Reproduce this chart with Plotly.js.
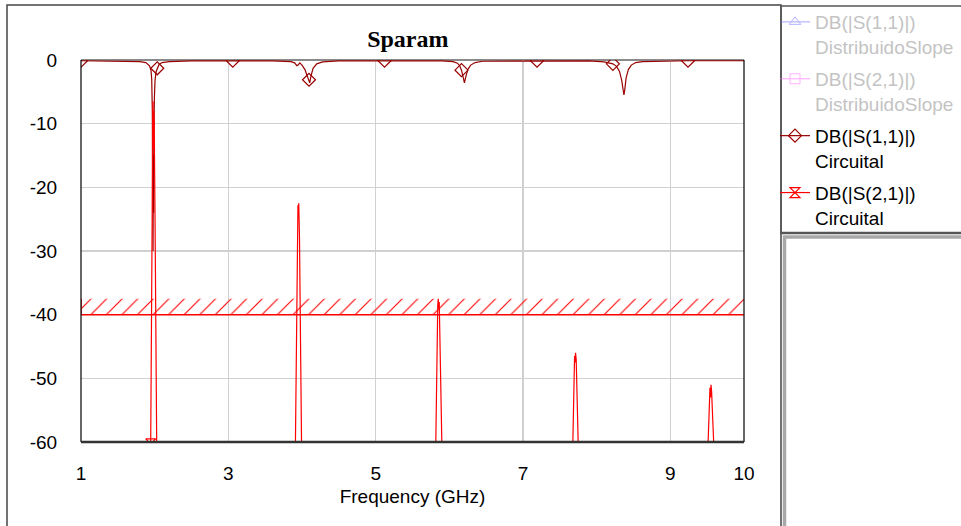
<!DOCTYPE html>
<html>
<head>
<meta charset="utf-8">
<script src="https://cdn.plot.ly/plotly-3.0.1.min.js"></script>
<style>html,body{margin:0;padding:0;background:#fff;}#chart{width:961px;height:526px;}</style>
</head>
<body>
<div id="chart"></div>
<script>
// ---------------- data ----------------
const xTicks = [1, 3, 5, 7, 9, 10];
const yTicks = [0, -10, -20, -30, -40, -50, -60];

// DB(|S(1,1)|) Circuital
const freqS11 = [1.00, 1.50, 1.80, 1.88, 1.93, 1.95, 1.96, 1.968, 1.974, 1.978, 1.982, 1.986, 1.99, 1.996, 2.005, 2.02, 2.035, 2.06, 2.10, 2.20, 2.50,
  3.06, 3.60, 3.85, 3.90, 3.93, 3.95, 3.97, 4.00, 4.04, 4.07, 4.095, 4.105, 4.12, 4.15, 4.20, 4.28, 4.50,
  5.12, 5.90, 6.05, 6.11, 6.14, 6.165, 6.19, 6.205, 6.22, 6.25, 6.29, 6.35, 6.45,
  7.19, 7.90, 8.10, 8.17, 8.22, 8.27, 8.31, 8.34, 8.36, 8.37, 8.38, 8.40, 8.43, 8.47, 8.53, 8.62, 9.24, 10.0];
const dbS11 = [-0.12, -0.15, -0.25, -0.4, -0.9, -1.6, -3, -8, -16, -30, -15, -24, -12, -6, -3.2, -1.8, -1.3, -0.7, -0.4, -0.25, -0.15,
  -0.12, -0.15, -0.25, -0.45, -0.9, -0.75, -0.45, -0.8, -1.5, -2.4, -3.1, -3.6, -2.6, -1.3, -0.6, -0.3, -0.15,
  -0.12, -0.15, -0.25, -0.5, -0.9, -1.6, -2.8, -3.6, -2.8, -1.5, -0.8, -0.4, -0.2,
  -0.12, -0.15, -0.3, -0.45, -0.6, -1.0, -1.8, -3.2, -5.0, -5.5, -4.8, -2.8, -1.5, -0.8, -0.4, -0.25, -0.12, -0.12];
const markS11 = [1.00, 2.035, 3.06, 4.095, 5.12, 6.165, 7.19, 8.22, 9.24];

// DB(|S(2,1)|) Circuital (values below -60 lie off the chart)
const freqS21 = [1.00, 1.90, 1.946, 1.958, 1.966, 1.972, 1.978, 1.983, 1.988, 1.994, 2.005, 2.018, 2.03, 2.06, 2.975,
  3.89, 3.91, 3.925, 3.937, 3.945, 3.95, 3.956, 3.966, 3.98, 3.99, 4.004, 4.04, 5.033,
  5.78, 5.815, 5.83, 5.843, 5.85, 5.856, 5.863, 5.878, 5.895, 5.93, 6.062, 7.091,
  7.64, 7.675, 7.69, 7.70, 7.707, 7.713, 7.722, 7.74, 7.758, 7.79, 8.12, 9.149,
  9.48, 9.51, 9.525, 9.538, 9.545, 9.552, 9.56, 9.578, 9.595, 9.63, 10.0];
const dbS21 = [-80, -75, -60.3, -45, -25, -10, -6.5, -14, -8, -10, -25, -50, -64, -80, -80,
  -80, -61, -40, -25, -22.8, -24.5, -22.5, -28, -45, -62, -72, -80, -80,
  -80, -61, -45, -38.5, -37.5, -39, -38, -48, -61, -80, -80, -80,
  -80, -61, -50, -46.5, -47.5, -46, -47, -55, -62, -80, -80, -80,
  -80, -61, -54, -51.5, -53, -51, -52, -56, -62, -80, -80];
const markS21 = [1.946, 2.975, 4.004, 5.033, 6.062, 7.091, 8.12, 9.149];

// DistribuidoSlope series are switched off in the reference (legend only, no visible values)
const freqDist = [null];
const dbDistS11 = [null];
const dbDistS21 = [null];

// limit mask
const maskFreq = [1, 10];
const maskLow = [-40, -40];
const maskHigh = [-37.5, -37.5];

// ---------------- drawing ----------------
const FONT = 'Liberation Sans, Arial, sans-serif';
const C11 = '#990000', C21 = '#ff0000';
const L = 81, R = 744, T = 60, B = 442, W = R - L, H = B - T;
const px = x => (x - L) / W;
const py = y => (B - y) / H;
const markerColors = (freq, marks, col) => freq.map((f, i) =>
  (i === 0 || marks.some(m => Math.abs(m - f) < 1e-9)) ? col : 'rgba(0,0,0,0)');

const traces = [
  { // hatched limit area
    x: [maskFreq[0], maskFreq[1], maskFreq[1], maskFreq[0]],
    y: [maskLow[0], maskLow[1], maskHigh[1], maskHigh[0]],
    mode: 'lines', fill: 'toself', line: {width: 0, color: 'rgba(0,0,0,0)'},
    fillcolor: 'rgba(0,0,0,0)',
    fillpattern: {shape: '/', fgcolor: C21, bgcolor: 'rgba(0,0,0,0)', size: 11, solidity: 0.1},
    showlegend: false, hoverinfo: 'skip'
  },
  { // limit line
    x: [maskFreq[1], maskFreq[0], maskFreq[0]],
    y: [maskLow[1], maskLow[0], maskHigh[0]],
    mode: 'lines', line: {width: 1.5, color: C21},
    showlegend: false, hoverinfo: 'skip'
  },
  {
    x: freqDist, y: dbDistS11, visible: 'legendonly', mode: 'lines+markers', legendgroup: 'g1',
    name: '<span style="color:#888">DB(|S(1,1)|)</span><br><span style="color:#888">DistribuidoSlope</span>',
    line: {color: '#6a6aff', width: 1.2},
    marker: {symbol: 'triangle-up-open', size: 10, color: '#6a6aff'}
  },
  {
    x: freqDist, y: dbDistS21, visible: 'legendonly', mode: 'lines+markers', legendgroup: 'g2',
    name: '<span style="color:#888">DB(|S(2,1)|)</span><br><span style="color:#888">DistribuidoSlope</span>',
    line: {color: '#ff66ff', width: 1.2},
    marker: {symbol: 'square-open', size: 10, color: '#ff66ff'}
  },
  {
    x: freqS11, y: dbS11, mode: 'lines+markers', legendgroup: 'g3',
    name: 'DB(|S(1,1)|)<br>Circuital',
    line: {color: C11, width: 1.2},
    marker: {symbol: 'diamond-open', size: 10, color: markerColors(freqS11, markS11, C11), line: {width: 1.2}}
  },
  {
    x: freqS21, y: dbS21, mode: 'lines+markers', legendgroup: 'g4',
    name: 'DB(|S(2,1)|)<br>Circuital',
    line: {color: C21, width: 1.2},
    marker: {symbol: 'hourglass-open', size: 10, color: markerColors(freqS21, markS21, C21), line: {width: 1.2}}
  }
];

const layout = {
  width: 961, height: 526,
  margin: {l: L, r: 961 - R, t: T, b: 526 - B, autoexpand: false},
  paper_bgcolor: '#ffffff', plot_bgcolor: '#ffffff',
  font: {family: FONT, size: 19, color: '#000'},
  title: {
    text: 'Sparam', xref: 'paper', x: 0.493, xanchor: 'center',
    yref: 'container', y: 1 - 39 / 526, yanchor: 'middle',
    font: {family: 'Liberation Serif, Times New Roman, serif', size: 24, color: '#000', weight: 'bold'}
  },
  xaxis: {
    range: [1, 10], tickvals: xTicks, ticktext: xTicks.map(String),
    showgrid: true, gridcolor: '#d0d0d0', gridwidth: 1.5, zeroline: false, showline: false,
    ticks: 'outside', ticklen: 14, tickcolor: 'rgba(0,0,0,0)',
    tickfont: {family: FONT, size: 19, color: '#000'},
    title: {text: 'Frequency (GHz)', font: {family: FONT, size: 19, color: '#000'}, standoff: 6}
  },
  yaxis: {
    range: [-60, 0], tickvals: yTicks, ticktext: yTicks.map(String),
    showgrid: true, gridcolor: '#d0d0d0', gridwidth: 1.5, zeroline: false, showline: false,
    ticks: 'outside', ticklen: 19, tickcolor: 'rgba(0,0,0,0)',
    tickfont: {family: FONT, size: 19, color: '#000'}
  },
  showlegend: true,
  legend: {
    x: px(775), xref: 'paper', xanchor: 'left',
    y: py(3), yref: 'paper', yanchor: 'top',
    valign: 'top', bgcolor: 'rgba(0,0,0,0)', borderwidth: 0,
    tracegroupgap: 4.5, itemwidth: 30, groupclick: 'toggleitem',
    font: {family: FONT, size: 19, color: '#000'}
  },
  shapes: [
    // outer window frame
    {type: 'rect', xref: 'paper', yref: 'paper', x0: px(7), x1: px(781), y0: py(540), y1: py(5),
     line: {color: '#444', width: 1.5}, layer: 'below'},
    // legend box
    {type: 'rect', xref: 'paper', yref: 'paper', x0: px(781), x1: px(975), y0: py(233), y1: py(6),
     line: {color: '#555', width: 1.5}, layer: 'below'},
    {type: 'line', xref: 'paper', yref: 'paper', x0: px(780), x1: px(975), y0: py(233), y1: py(233),
     line: {color: '#555', width: 2.5}},
    // lower panel
    {type: 'rect', xref: 'paper', yref: 'paper', x0: px(784.5), x1: px(975), y0: py(540), y1: py(237),
     line: {color: '#a8a8a8', width: 3.5}, layer: 'below'},
    // plot frame
    {type: 'line', xref: 'paper', yref: 'paper', x0: 0, x1: 1, y0: 1, y1: 1, line: {color: '#8a8a8a', width: 2}, layer: 'below'},
    {type: 'line', xref: 'paper', yref: 'paper', x0: 0, x1: 0, y0: 0, y1: 1, line: {color: '#000', width: 1.2}},
    {type: 'line', xref: 'paper', yref: 'paper', x0: 1, x1: 1, y0: 0, y1: 1, line: {color: '#000', width: 1.2}},
    {type: 'line', xref: 'paper', yref: 'paper', x0: 0, x1: 1, y0: 0, y1: 0, line: {color: '#333', width: 2.5}}
  ]
};

Plotly.newPlot('chart', traces, layout, {displayModeBar: false, staticPlot: true});
</script>
</body>
</html>
